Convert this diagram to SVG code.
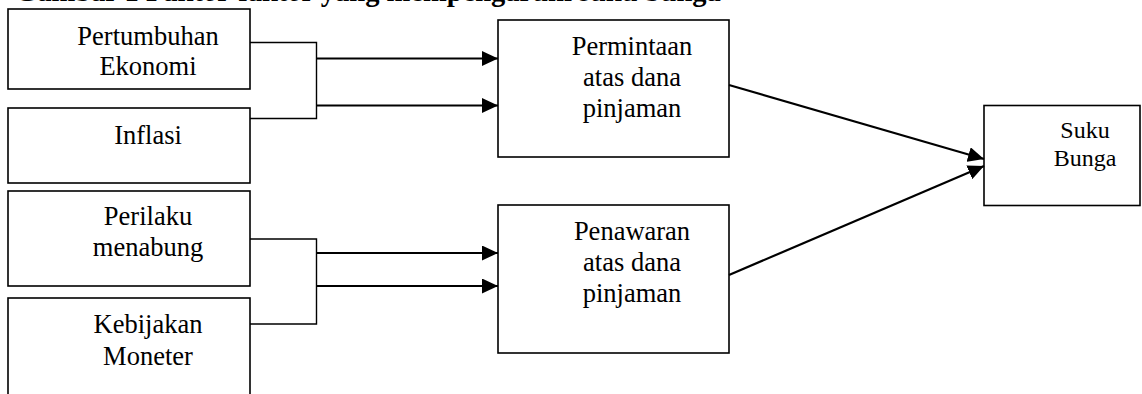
<svg xmlns="http://www.w3.org/2000/svg" width="1142" height="394" viewBox="0 0 1142 394">
  <style>
    .box { fill: #fff; stroke: #000; stroke-width: 1.6; }
    .lbl { font-family: "Liberation Serif", "Times New Roman", serif; font-size: 26.5px; fill: #000; text-anchor: middle; }
    .lbl-s { font-family: "Liberation Serif", "Times New Roman", serif; font-size: 24px; fill: #000; text-anchor: middle; }
    .title { font-family: "Liberation Serif", "Times New Roman", serif; font-size: 28.5px; font-weight: bold; fill: #000; }
    .join { fill: none; stroke: #000; stroke-width: 1.4; }
    .arrow { fill: none; stroke: #000; stroke-width: 2.2; marker-end: url(#head); }
  </style>
  <defs>
    <marker id="head" markerUnits="userSpaceOnUse" markerWidth="16" markerHeight="15" refX="16" refY="7.5" orient="auto">
      <path d="M0,0 L16,7.5 L0,15 Z" fill="#000"/>
    </marker>
  </defs>
  <rect width="1142" height="394" fill="#fff"/>

  <text class="title" x="15" y="1">Gambar 1 Faktor-faktor yang mempengaruhi suku bunga</text>

  <g id="pertumbuhan-ekonomi">
    <rect class="box" x="8" y="9" width="242" height="80"/>
    <text class="lbl" x="148" y="45">Pertumbuhan</text>
    <text class="lbl" x="148" y="75">Ekonomi</text>
  </g>
  <g id="inflasi">
    <rect class="box" x="8" y="108" width="242" height="75"/>
    <text class="lbl" x="148" y="144">Inflasi</text>
  </g>
  <g id="perilaku-menabung">
    <rect class="box" x="8" y="191" width="242" height="95"/>
    <text class="lbl" x="148" y="225">Perilaku</text>
    <text class="lbl" x="148" y="256">menabung</text>
  </g>
  <g id="kebijakan-moneter">
    <rect class="box" x="8" y="298" width="242" height="110"/>
    <text class="lbl" x="148" y="333">Kebijakan</text>
    <text class="lbl" x="148" y="365">Moneter</text>
  </g>
  <g id="permintaan">
    <rect class="box" x="498" y="20" width="231" height="137"/>
    <text class="lbl" x="632" y="55">Permintaan</text>
    <text class="lbl" x="632" y="86">atas dana</text>
    <text class="lbl" x="632" y="117">pinjaman</text>
  </g>
  <g id="penawaran">
    <rect class="box" x="498" y="205" width="231" height="148"/>
    <text class="lbl" x="632" y="240">Penawaran</text>
    <text class="lbl" x="632" y="271">atas dana</text>
    <text class="lbl" x="632" y="302">pinjaman</text>
  </g>
  <g id="suku-bunga">
    <rect class="box" x="984" y="105.5" width="156" height="100"/>
    <text class="lbl-s" x="1085" y="138">Suku</text>
    <text class="lbl-s" x="1085" y="166">Bunga</text>
  </g>

  <g id="connectors">
    <!-- bracket joining the demand-side factors -->
    <path class="join" d="M250,42.5 H316.5 V118.5 H250"/>
    <line class="arrow" x1="316.5" y1="58.5" x2="498" y2="58.5"/>
    <line class="arrow" x1="316.5" y1="105.5" x2="498" y2="105.5"/>
    <!-- bracket joining the supply-side factors -->
    <path class="join" d="M250,239 H316.5 V324 H250"/>
    <line class="arrow" x1="316.5" y1="253" x2="498" y2="253"/>
    <line class="arrow" x1="316.5" y1="286" x2="498" y2="286"/>
    <!-- both markets feed the interest rate -->
    <line class="arrow" x1="729" y1="85" x2="984" y2="159"/>
    <line class="arrow" x1="729" y1="275" x2="984" y2="166"/>
  </g>
</svg>
